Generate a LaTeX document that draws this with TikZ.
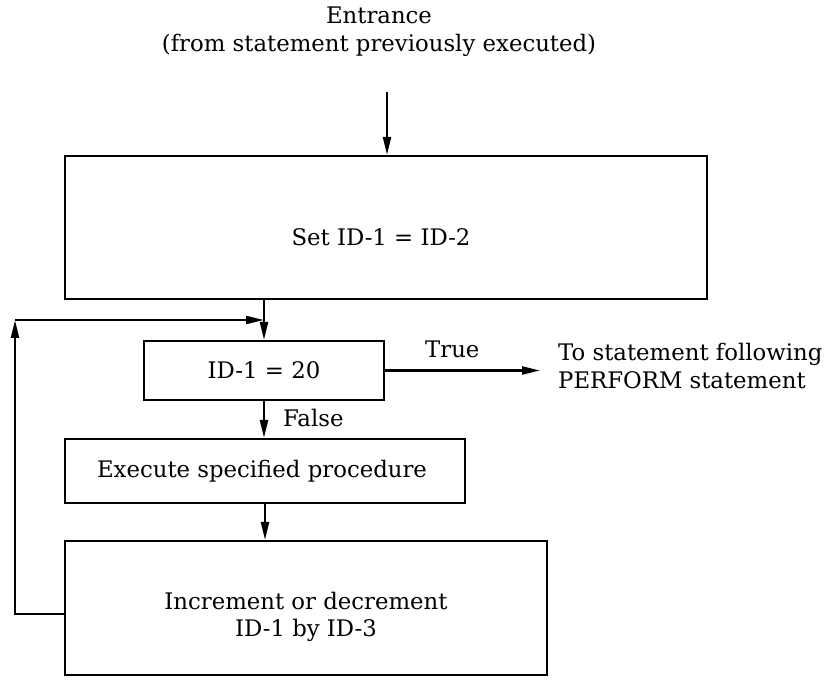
\documentclass[tikz,border=0pt]{standalone}
\usepackage{fontspec}
\setmainfont{DejaVu Serif}
\usetikzlibrary{arrows.meta}
\begin{document}
\begin{tikzpicture}[x=1pt,y=-1pt,
  every node/.style={inner sep=0pt, font=\fontsize{22.8}{27.5}\selectfont},
  box/.style={draw, line width=2.2pt},
  conn/.style={line width=2.2pt},
  arr/.style={conn, -{Triangle[length=18pt,width=8pt]}},
]
\useasboundingbox (0,0) rectangle (831,684);

% entry text and arrow
\node[align=center, anchor=north] (entry) at (379,7)
  {Entrance\\(from statement previously executed)};
\coordinate (entrytail) at (387,92);

% boxes
\node[box, minimum width=642pt, minimum height=143pt] (set)  at (386,227.5) {};
\node[box, minimum width=240pt, minimum height=59pt]  (test) at (264,370.5) {};
\node[box, minimum width=400pt, minimum height=64pt]  (exec) at (265,471)   {};
\node[box, minimum width=482pt, minimum height=134pt] (incr) at (306,608)   {};

% box texts
\node (settext)  at (381,237) {Set ID-1 = ID-2};
\node (testtext) at (264,370.5) {ID-1 = 20};
\node (exectext) at (262,471) {Execute specified procedure};
\node[align=center] (incrtext) at (306,617) {Increment or decrement\\ID-1 by ID-3};

% exit text and labels
\node[align=left, anchor=west] (exittext) at (558,366)
  {To statement following\\PERFORM statement};
\node[anchor=base west] (truelbl)  at (425,358) {True};
\node[anchor=base west] (falselbl) at (283,427) {False};

% connectors
\draw[arr] (entrytail) -- (entrytail |- set.north);
\draw[arr] (set.south -| test.north) -- (test.north);
\draw[arr] (test.east) -- ([xshift=-18pt]test.east -| exittext.west);
\draw[arr] (test.south) -- (exec.north -| test.south);
\draw[arr] (exec.south) -- (exec.south |- incr.north);

% loop back
\coordinate (loopstart) at (incr.west |- 0,614);
\coordinate (loopcorner) at (15,320);
\draw[arr] (loopstart) -| (loopcorner);
\draw[arr] (loopcorner) -- (loopcorner -| test.north);
\end{tikzpicture}
\end{document}
